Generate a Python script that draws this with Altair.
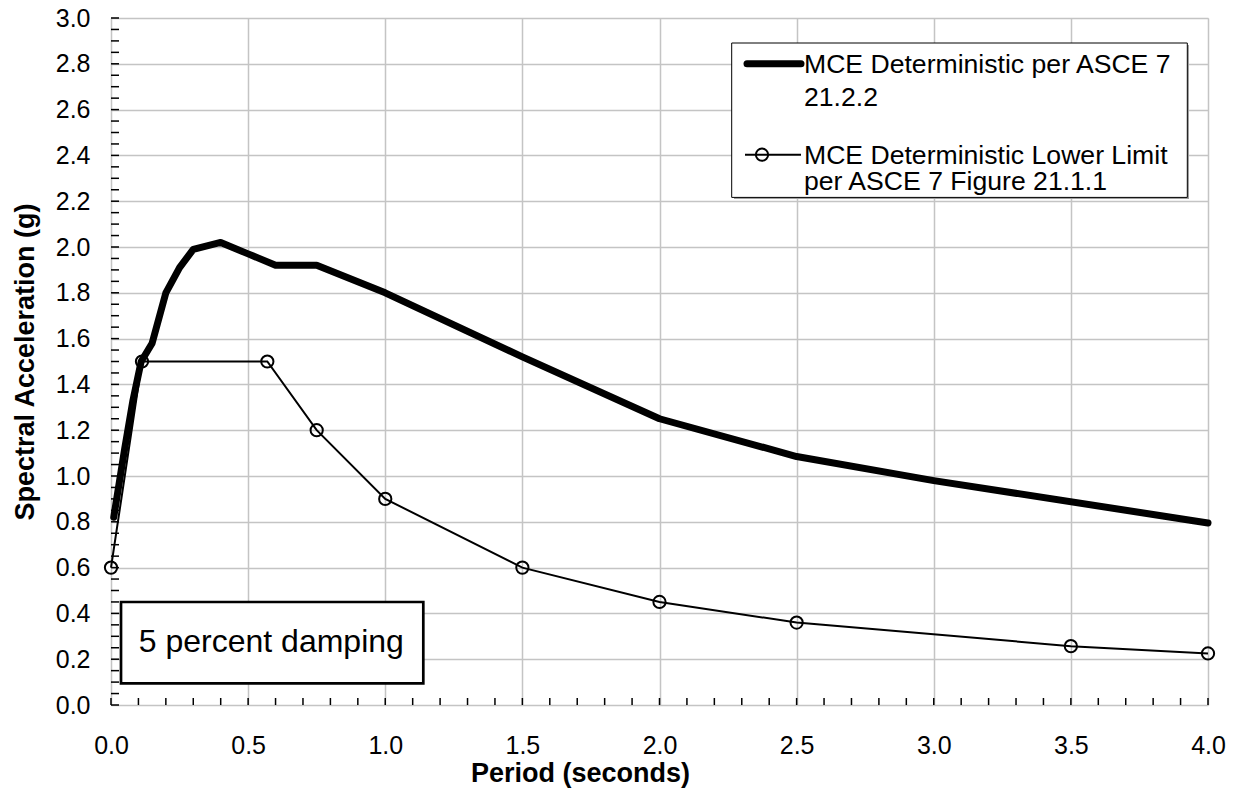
import altair as alt
import pandas as pd
import numpy as np

# Thick curve: MCE Deterministic per ASCE 7 21.2.2
det_T = [0.01, 0.05, 0.08, 0.11, 0.15, 0.2, 0.25, 0.3, 0.4, 0.5, 0.6, 0.75, 1.0, 1.5, 2.0, 2.5, 3.0, 4.0]
det_Sa = [0.82, 1.12, 1.33, 1.50, 1.58, 1.80, 1.91, 1.99, 2.02, 1.97, 1.92, 1.92, 1.80, 1.52, 1.25, 1.085, 0.98, 0.795]

# Thin curve with circles: MCE Deterministic Lower Limit
low_T = [0.0, 0.113, 0.57, 0.75, 1.0, 1.5, 2.0, 2.5, 3.5, 4.0]
low_Sa = [0.6, 1.5, 1.5, 1.2, 0.9, 0.6, 0.45, 0.36, 0.257, 0.225]

x_ticks = [0.0, 0.5, 1.0, 1.5, 2.0, 2.5, 3.0, 3.5, 4.0]
y_ticks = [0.0, 0.2, 0.4, 0.6, 0.8, 1.0, 1.2, 1.4, 1.6, 1.8, 2.0, 2.2, 2.4, 2.6, 2.8, 3.0]
x_minor = [round(v, 2) for v in np.arange(0.0, 4.0001, 0.1)]
y_minor = [round(v, 2) for v in np.arange(0.0, 3.0001, 0.05)]

legend_1 = ["MCE Deterministic per ASCE 7", "21.2.2"]
legend_2 = ["MCE Deterministic Lower Limit", "per ASCE 7 Figure 21.1.1"]
note = "5 percent damping"

FONT = "Liberation Sans"
W, H = 1097, 687

det = pd.DataFrame({"T": det_T, "Sa": det_Sa})
low = pd.DataFrame({"T": low_T, "Sa": low_Sa})
one = pd.DataFrame({"a": [0]})

xs = alt.Scale(domain=[0, 4], nice=False, zero=False)
ys = alt.Scale(domain=[0, 3], nice=False, zero=False)

x_axis = alt.Axis(values=x_ticks, format=".1f", grid=True, gridColor="#c4c4c4", gridWidth=1.5,
                  domain=False, ticks=False, tickSize=0, labelFont=FONT, labelFontSize=25,
                  labelColor="black", labelPadding=48, labelBaseline="alphabetic",
                  title="Period (seconds)", titleFont=FONT, titleFontSize=27, titleFontWeight="bold",
                  titleColor="black", titleX=469, titleY=76, titleAlign="center",
                  titleBaseline="alphabetic", labelFlush=False)
y_axis = alt.Axis(values=y_ticks, format=".1f", grid=True, gridColor="#c4c4c4", gridWidth=1.5,
                  domain=False, ticks=False, tickSize=0, labelFont=FONT, labelFontSize=25,
                  labelColor="black", labelPadding=21,
                  title="Spectral Acceleration (g)", titleFont=FONT, titleFontSize=27,
                  titleFontWeight="bold", titleColor="black", titleX=-86, titleY=H / 2,
                  titleAlign="center", titleBaseline="middle", titleAngle=-90, labelFlush=False)

base_grid = alt.Chart(det).mark_line(opacity=0).encode(
    x=alt.X("T:Q", scale=xs, axis=x_axis),
    y=alt.Y("Sa:Q", scale=ys, axis=y_axis),
)

det_line = alt.Chart(det).mark_line(color="black", strokeWidth=7, strokeCap="round",
                                    strokeJoin="round").encode(
    x=alt.X("T:Q", scale=xs), y=alt.Y("Sa:Q", scale=ys))

low_line = alt.Chart(low).mark_line(color="black", strokeWidth=2).encode(
    x=alt.X("T:Q", scale=xs), y=alt.Y("Sa:Q", scale=ys))
low_pts = alt.Chart(low).mark_point(shape="circle", filled=False, color="black", size=150,
                                    strokeWidth=2, opacity=1).encode(
    x=alt.X("T:Q", scale=xs), y=alt.Y("Sa:Q", scale=ys))

yminor = alt.Chart(pd.DataFrame({"v": y_minor})).mark_rule(color="black", strokeWidth=1.5).encode(
    y=alt.Y("v:Q", scale=ys), x=alt.value(0), x2=alt.value(8))
xminor = alt.Chart(pd.DataFrame({"v": x_minor})).mark_rule(color="black", strokeWidth=1.5).encode(
    x=alt.X("v:Q", scale=xs), y=alt.value(H), y2=alt.value(H - 7))

# legend box
leg_shadow = alt.Chart(one).mark_rect(color="#a0a0a0").encode(
    x=alt.value(623), x2=alt.value(1078), y=alt.value(27), y2=alt.value(181))
leg_box = alt.Chart(one).mark_rect(fill="white", stroke="black", strokeWidth=1).encode(
    x=alt.value(620.7), x2=alt.value(1076.3), y=alt.value(25), y2=alt.value(179.4))
leg_l1 = alt.Chart(one).mark_rule(color="black", strokeWidth=7, strokeCap="round").encode(
    x=alt.value(636), x2=alt.value(690), y=alt.value(45.7))
leg_l2 = alt.Chart(one).mark_rule(color="black", strokeWidth=2).encode(
    x=alt.value(634), x2=alt.value(690), y=alt.value(136.7))
leg_p2 = alt.Chart(one).mark_point(shape="circle", filled=False, color="black", size=150,
                                   strokeWidth=2, opacity=1).encode(
    x=alt.value(651), y=alt.value(136.7))

def txt(s, x, y, size, align="left"):
    return alt.Chart(one).mark_text(text=s, font=FONT, fontSize=size, color="black",
                                    align=align, baseline="alphabetic").encode(
        x=alt.value(x), y=alt.value(y))

leg_t = [txt(legend_1[0], 693, 55, 26.6), txt(legend_1[1], 693, 88.4, 26.6),
         txt(legend_2[0], 693, 146, 26.6), txt(legend_2[1], 693, 171.5, 26.6)]

note_box = alt.Chart(one).mark_rect(fill="white", stroke="black", strokeWidth=2.7).encode(
    x=alt.value(10), x2=alt.value(312.3), y=alt.value(584), y2=alt.value(665.4))
note_t = txt(note, 160.3, 634.4, 32, align="center")

chart = alt.layer(
    base_grid, xminor, yminor, low_line, low_pts, det_line,
    note_box, note_t, leg_shadow, leg_box, leg_l1, leg_l2, leg_p2, *leg_t
).properties(
    width=W, height=H,
    autosize=alt.AutoSizeParams(type="none"),
    padding={"left": 103, "top": 10, "right": 22, "bottom": 90},
).configure_view(stroke="black", strokeWidth=3).configure(background="white")

chart.save("out.html", embed_options={"renderer": "svg", "actions": False})
